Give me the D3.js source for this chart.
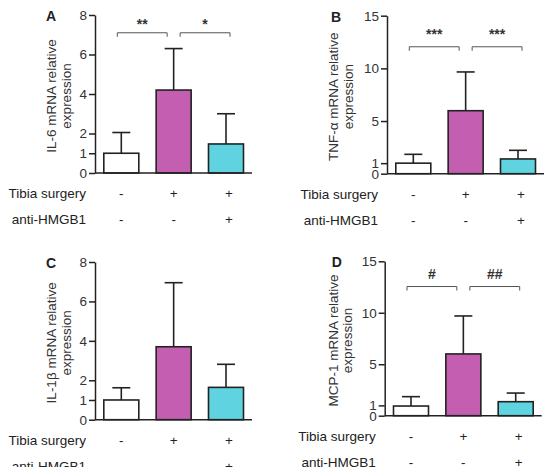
<!DOCTYPE html>
<html>
<head>
<meta charset="utf-8">
<script src="https://cdn.jsdelivr.net/npm/d3@7"></script>
<style>
  body { margin: 0; background: #fff; }
  svg { display: block; font-family: "Liberation Sans", Arial, sans-serif; }
</style>
</head>
<body>
<div id="chart"></div>
<script>
// Groups and treatment rows
var groups = ["sham", "surgery", "surgeryAnti"];
var tibiaSurgery = ["-", "+", "+"];
var antiHMGB1 = ["-", "-", "+"];
var groupColors = ["#ffffff", "#c45eb0", "#5fd3e0"];

// Mean and SD (one-sided error bars) per gene
var il6Mean = [1.0, 4.2, 1.47];
var il6Sd = [1.05, 2.1, 1.53];
var tnfMean = [1.0, 5.98, 1.4];
var tnfSd = [0.84, 3.68, 0.82];
var il1bMean = [1.0, 3.7, 1.64];
var il1bSd = [0.62, 3.25, 1.17];
var mcp1Mean = [0.94, 6.0, 1.36];
var mcp1Sd = [0.91, 3.69, 0.84];

// Axis ticks
var ticks8 = [0, 1, 2, 4, 6, 8];
var ticks15 = [0, 1, 5, 10, 15];

// Significance marks (left pair, right pair) and bracket height in data units
var il6Sig = ["**", "*"];
var tnfSig = ["***", "***"];
var mcp1Sig = ["#", "##"];
var il6Bracket = 7.1;
var tnfBracket = 12.05;
var mcp1Bracket = 12.55;

class BarPanel {

  constructor(_svg, _opts) {
    this.svg = _svg;
    this.o = _opts;
    this.draw();
  }

  draw() {
    var vis = this;
    var o = vis.o;

    vis.g = vis.svg.append("g");

    // Scales
    vis.x = d3.scalePoint().domain(groups).range([o.axisX + 26.3, o.axisX + 131]);
    vis.y = d3.scaleLinear().domain([0, o.max]).range([o.y0, o.yTop]);
    var barW = 35;

    var rows = groups.map((k, i) => ({ key: k, mean: o.mean[i], sd: o.sd[i], color: groupColors[i] }));

    // Error bars (drawn first, bars cover the lower half)
    var err = vis.g.selectAll(".err").data(rows).enter().append("g").attr("class", "err");
    err.append("line")
      .attr("x1", d => vis.x(d.key)).attr("x2", d => vis.x(d.key))
      .attr("y1", d => vis.y(d.mean)).attr("y2", d => vis.y(d.mean + d.sd))
      .attr("stroke", "#222").attr("stroke-width", 1.6);
    err.append("line")
      .attr("x1", d => vis.x(d.key) - 9).attr("x2", d => vis.x(d.key) + 9)
      .attr("y1", d => vis.y(d.mean + d.sd)).attr("y2", d => vis.y(d.mean + d.sd))
      .attr("stroke", "#222").attr("stroke-width", 1.6);

    // Bars
    vis.g.selectAll(".bar").data(rows).enter().append("rect")
      .attr("class", "bar")
      .attr("x", d => vis.x(d.key) - barW / 2)
      .attr("y", d => vis.y(d.mean))
      .attr("width", barW)
      .attr("height", d => vis.y(0) - vis.y(d.mean))
      .attr("fill", d => d.color)
      .attr("stroke", "#222")
      .attr("stroke-width", 1.6);

    // Y axis
    var yAxis = vis.g.append("g")
      .attr("transform", "translate(" + o.axisX + ",0)")
      .call(d3.axisLeft(vis.y).tickValues(o.ticks).tickSize(6).tickSizeOuter(0).tickPadding(2));
    yAxis.selectAll("path, line").attr("stroke", "#222").attr("stroke-width", 1.5);
    yAxis.selectAll("text").attr("fill", "#333").style("font-size", "13.5px")
      .style("font-family", "'Liberation Sans', Arial, sans-serif");

    // X axis line
    vis.g.append("line")
      .attr("x1", o.axisX).attr("x2", o.axisX + 157)
      .attr("y1", vis.y(0)).attr("y2", vis.y(0))
      .attr("stroke", "#222").attr("stroke-width", 1.5);

    // Y axis label (two lines)
    var midY = (o.y0 + o.yTop) / 2 + 2;
    vis.g.append("text")
      .attr("transform", "translate(" + (o.axisX + o.labelDx) + "," + midY + ") rotate(-90)")
      .attr("text-anchor", "middle")
      .attr("fill", "#333")
      .style("font-size", "13.5px")
      .selectAll("tspan").data([o.yLabel, "expression"]).enter().append("tspan")
      .attr("x", 0).attr("dy", (d, i) => i == 0 ? 0 : 14.5)
      .text(d => d);

    // Panel letter
    vis.g.append("text")
      .attr("x", o.axisX + o.letterDx).attr("y", o.yTop + 6)
      .attr("text-anchor", "middle")
      .attr("font-weight", "bold")
      .attr("fill", "#222")
      .style("font-size", "14px")
      .text(o.letter);

    // Treatment rows
    var rowData = [["Tibia surgery", tibiaSurgery, 20], ["anti-HMGB1", antiHMGB1, 46]];
    rowData.forEach(r => {
      vis.g.append("text")
        .attr("x", o.axisX - 9).attr("y", o.y0 + r[2] + 5)
        .attr("text-anchor", "end").attr("fill", "#222")
        .style("font-size", "13.5px")
        .text(r[0]);
      vis.g.selectAll(null).data(r[1]).enter().append("text")
        .attr("x", (d, i) => vis.x(groups[i]) + (i == 2 ? 3 : 0))
        .attr("y", o.y0 + r[2] + 5)
        .attr("text-anchor", "middle").attr("fill", "#222")
        .style("font-size", "13.5px")
        .text(d => d);
    });

    // Significance brackets
    if (o.sig) {
      var by = vis.y(o.bracket);
      var spans = [
        [vis.x(groups[0]) - 4, vis.x(groups[1]) - 6.5],
        [vis.x(groups[1]) + 6.5, vis.x(groups[2]) + 4]
      ];
      spans.forEach((s, i) => {
        vis.g.append("path")
          .attr("d", "M" + s[0] + "," + (by + 4) + "V" + by + "H" + s[1] + "V" + (by + 4))
          .attr("fill", "none").attr("stroke", "#555").attr("stroke-width", 1);
        vis.g.append("text")
          .attr("x", (s[0] + s[1]) / 2).attr("y", by - o.sigDy)
          .attr("text-anchor", "middle").attr("fill", "#333")
          .attr("font-weight", "bold")
          .style("font-size", "14px")
          .text(o.sig[i]);
      });
    }
  }
}

var svg = d3.select("#chart").append("svg").attr("width", 547).attr("height", 467);

new BarPanel(svg, { letter: "A", axisX: 95, yTop: 15, y0: 173, max: 8, ticks: ticks8,
  mean: il6Mean, sd: il6Sd, yLabel: "IL-6 mRNA relative", labelDx: -39, letterDx: -44,
  sig: il6Sig, bracket: il6Bracket, sigDy: 4 });
new BarPanel(svg, { letter: "B", axisX: 387, yTop: 15.7, y0: 173.7, max: 15, ticks: ticks15,
  mean: tnfMean, sd: tnfSd, yLabel: "TNF-\u03b1 mRNA relative", labelDx: -49, letterDx: -51,
  sig: tnfSig, bracket: tnfBracket, sigDy: 8 });
new BarPanel(svg, { letter: "C", axisX: 95, yTop: 262, y0: 419.7, max: 8, ticks: ticks8,
  mean: il1bMean, sd: il1bSd, yLabel: "IL-1\u03b2 mRNA relative", labelDx: -39, letterDx: -44 });
new BarPanel(svg, { letter: "D", axisX: 384.7, yTop: 261.3, y0: 415.7, max: 15, ticks: ticks15,
  mean: mcp1Mean, sd: mcp1Sd, yLabel: "MCP-1 mRNA relative", labelDx: -47, letterDx: -48,
  sig: mcp1Sig, bracket: mcp1Bracket, sigDy: 8 });
</script>
</body>
</html>
